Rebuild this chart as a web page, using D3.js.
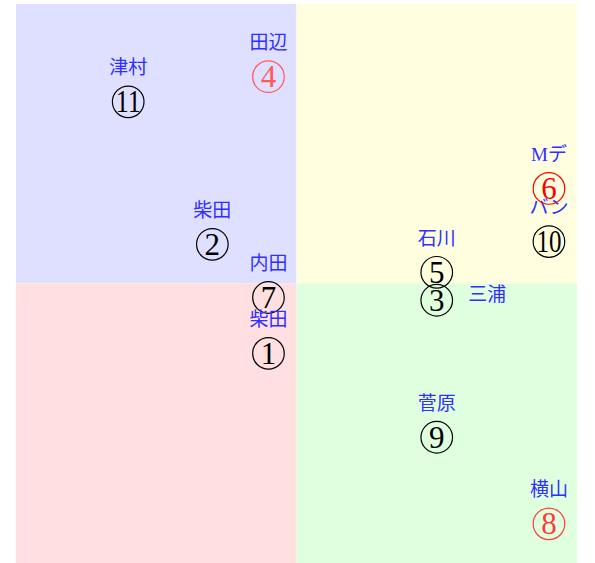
<!DOCTYPE html>
<html><head><meta charset="utf-8">
<script src="https://cdn.jsdelivr.net/npm/d3@7"></script>
<style>html,body{margin:0;padding:0;background:#fff;}</style>
</head><body>
<svg id="chart" width="595" height="563"></svg>
<script>
// data
const ids    = [11, 4, 2, 7, 1, 5, 3, 10, 6, 9, 8];
const names  = ["津村", "田辺", "柴田", "内田", "柴田", "石川", "三浦", "バン", "Mデ", "菅原", "横山"];
const xVals  = [2.0, 4.5, 3.5, 4.5, 4.5, 7.5, 7.5, 9.5, 9.5, 7.5, 9.5];
const yVals  = [8.25, 8.7, 5.7, 4.75, 3.75, 5.2, 4.7, 5.75, 6.7, 2.25, 0.7];
const marks  = ["black", "pink", "black", "black", "black", "black", "black", "black", "red", "black", "coral"];
const quadrants = [
  {x0: 0, x1: 5, y0: 5, y1: 10, fill: "#dfdfff"},
  {x0: 5, x1: 10, y0: 5, y1: 10, fill: "#ffffdf"},
  {x0: 0, x1: 5, y0: 0, y1: 5, fill: "#ffdfdf"},
  {x0: 5, x1: 10, y0: 0, y1: 5, fill: "#dfffdf"}
];

const colorMap = {black: "#000000", pink: "#ff5a5a", red: "#ff0000", coral: "#ff3a3a"};

const svg = d3.select("#chart");
const x = d3.scaleLinear().domain([0, 10]).range([16, 577]);
const y = d3.scaleLinear().domain([0, 10]).range([563, 4]);

svg.selectAll("rect.q").data(quadrants).enter().append("rect")
  .attr("class", "q")
  .attr("x", d => x(d.x0)).attr("y", d => y(d.y1))
  .attr("width", d => x(d.x1) - x(d.x0)).attr("height", d => y(d.y0) - y(d.y1))
  .attr("fill", d => d.fill);

const pts = ids.map((id, i) => ({id, name: names[i], x: xVals[i], y: yVals[i], c: colorMap[marks[i]]}));

const g = svg.selectAll("g.pt").data(pts).enter().append("g")
  .attr("class", "pt")
  .attr("transform", d => `translate(${x(d.x)},${y(d.y)})`);

g.append("circle").attr("r", 15.8).attr("fill", "none")
  .attr("stroke", d => d.c).attr("stroke-width", 1.2);

g.append("text")
  .attr("text-anchor", "middle")
  .attr("y", 10.5)
  .attr("font-family", "'Liberation Serif', 'DejaVu Serif', serif")
  .attr("font-size", 31)
  .attr("fill", d => d.c)
  .each(function(d) {
    const s = String(d.id);
    const t = d3.select(this).text(s);
    if (s.length > 1) t.attr("textLength", 25).attr("lengthAdjust", "spacingAndGlyphs");
  });

g.append("text")
  .attr("text-anchor", "middle")
  .attr("x", d => d.id === 3 ? 50.5 : 0)
  .attr("y", d => d.id === 3 ? 1 : -27.5)
  .attr("font-family", "'Liberation Serif', 'Noto Sans CJK JP', sans-serif")
  .attr("font-size", 19)
  .attr("fill", "#2f2fff")
  .text(d => d.name);
</script>
</body></html>
